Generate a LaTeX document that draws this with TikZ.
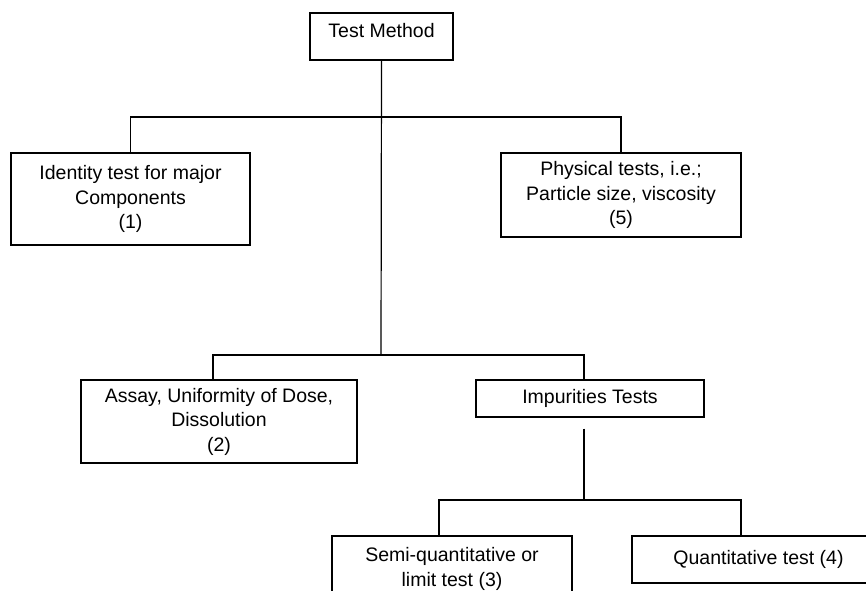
\documentclass[tikz,border=0pt]{standalone}
\usepackage{fontspec}
\setmainfont{Liberation Sans}
\usepackage{tikz}
\usetikzlibrary{positioning,calc}
\newcommand{\boxfont}{\fontsize{19.5}{24.5}\selectfont}
\tikzset{
  box/.style ={rectangle, draw=black, line width=1.2pt, align=center,
               font=\boxfont, inner sep=0pt},
  link/.style={line width=1.2pt},
}
\begin{document}
\begin{tikzpicture}[x=1pt,y=-1pt]
\path[use as bounding box, fill=white] (0,0) rectangle (866,590);

\node[box, minimum width=143, text height=14pt, text depth=13pt, inner ysep=10pt] (tm) at (381.5,36.5) {Test Method};
\node[box, minimum width=239, minimum height=92] (ident) at (130.5,199) {Identity test for major\\ Components\\ (1)};
\node[box, minimum width=240, minimum height=84] (phys) at (621,195) {Physical tests, i.e.;\\ Particle size, viscosity\\ (5)};
\node[box, minimum width=276, minimum height=83] (assay) at (219,421.5) {Assay, Uniformity of Dose,\\ Dissolution\\ (2)};
\node[box, minimum width=228, minimum height=37] (imp) at (590,398.5) {Impurities Tests};
\node[box, minimum width=240, minimum height=66] (semi) at (452,569) {Semi-quantitative or\\ limit test (3)};
\node[box, minimum width=253, minimum height=47] (quant) at (758.5,559.5) {Quantitative test (4)};

% junctions of the tree
\coordinate (j1) at (381,117);
\coordinate (j2) at (381,355);
\coordinate (j3) at (584,500);

\draw[link] (tm.south) -- (j2);
\draw[link] (ident.north) |- (j1) -| (phys.north);
\draw[link] ([xshift=-6pt]assay.north) |- (j2) -| ([xshift=-6pt]imp.north);
\draw[link, shorten <=11pt] ([xshift=-6pt]imp.south) -- (j3);
\draw[link] ([xshift=-13pt]semi.north) |- (j3) -| ([xshift=-17.5pt]quant.north);
\end{tikzpicture}
\end{document}
